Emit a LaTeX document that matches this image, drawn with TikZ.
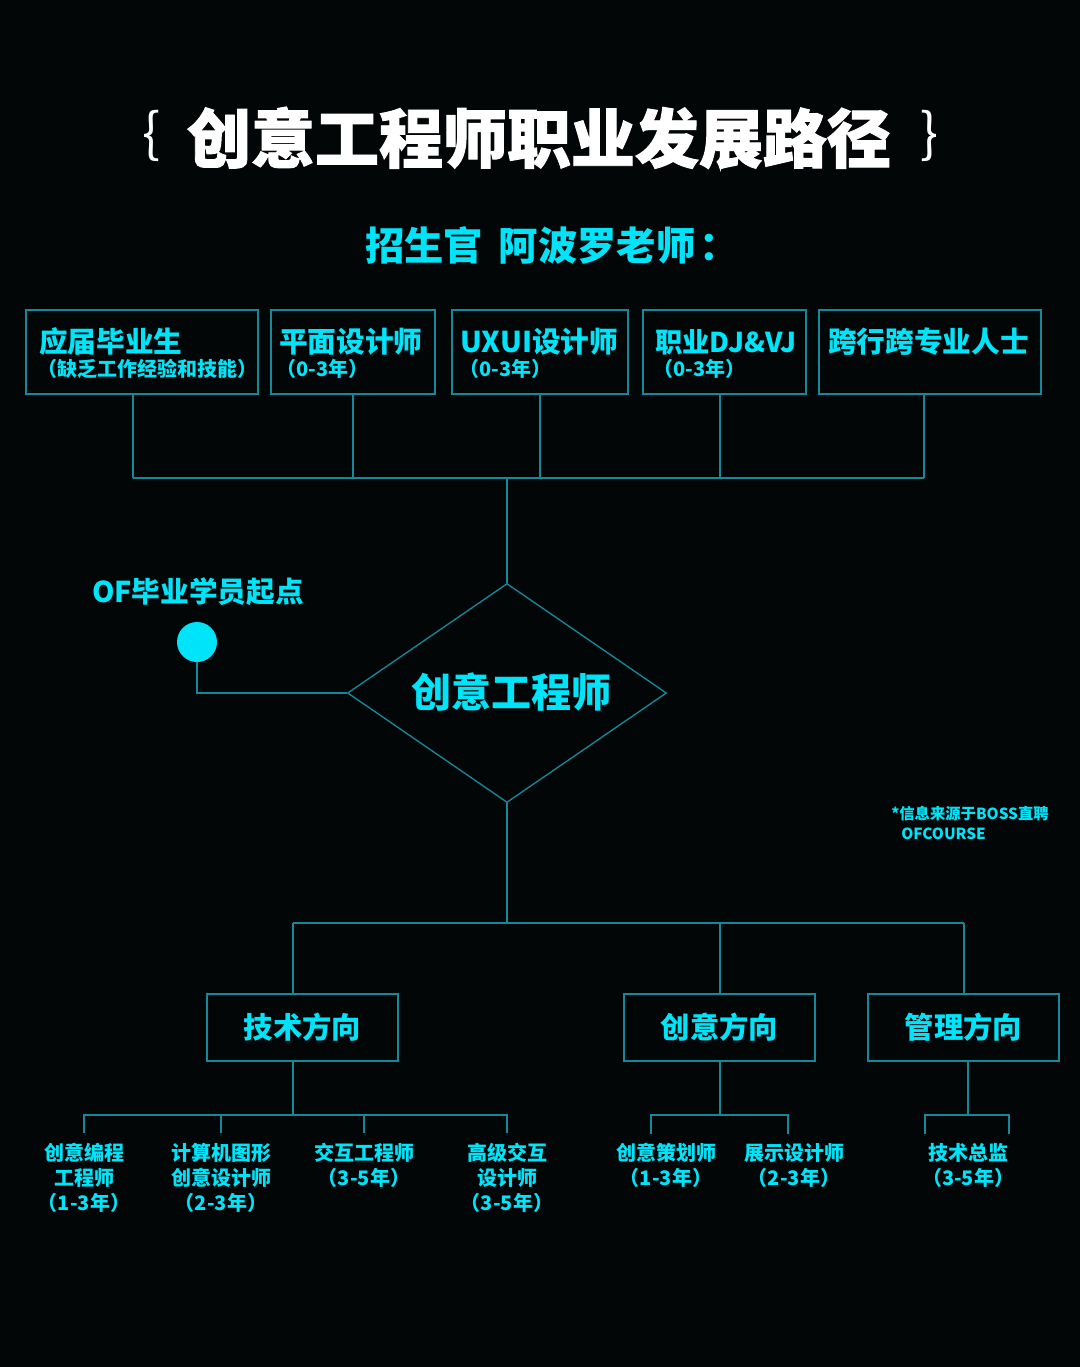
\documentclass[tikz,border=0pt]{standalone}
\usepackage{fontspec}
\setmainfont{Noto Sans CJK SC}
\newfontfamily\titlefont{Noto Sans CJK SC}[FakeBold=1.5]
\usetikzlibrary{shapes.geometric}

\definecolor{bgblack}{HTML}{030607}
\definecolor{ofcyan}{HTML}{00E4FA}
\definecolor{linkteal}{HTML}{14899A}

\begin{document}
\begin{tikzpicture}[x=0.75pt, y=-0.75pt,
    every node/.style={text=ofcyan, inner sep=0pt, font=\bfseries},
    box/.style={rectangle, draw=linkteal, line width=1.1pt},
    link/.style={draw=linkteal, line width=1pt},
    boxname/.style={anchor=west, font=\fontsize{21.5}{24}\selectfont\bfseries},
    boxnote/.style={anchor=west, font=\fontsize{15}{17}\selectfont\bfseries},
    leaf/.style={anchor=north, align=center, font=\fontsize{15}{18.75}\selectfont\bfseries}]

    % background
    \fill[bgblack] (0,0) rectangle (1080,1367);
    \useasboundingbox (0,0) rectangle (1080,1367);

    % title
    \node[text=white, font=\titlefont\fontsize{48}{52}\selectfont\bfseries] (title) at (539,138) {创意工程师职业发展路径};
    \node[text=white, font=\fontsize{40}{44}\selectfont] (lbrace) at (152,136) {\{};
    \node[text=white, font=\fontsize{40}{44}\selectfont] (rbrace) at (930,136) {\}};
    \node[font=\fontsize{29.5}{32}\selectfont\bfseries] (teacher) at (552,245) {招生官\hspace{0.4em}阿波罗老师\hspace{0.1em}：};

    % entry boxes
    \node[box, minimum width=174pt, minimum height=63pt] (grad) at (142,352) {};
    \node[boxname] (gradname) at (39,342) {应届毕业生};
    \node[boxnote] (gradnote) at (37,369) {（缺乏工作经验和技能）};

    \node[box, minimum width=123pt, minimum height=63pt] (graphic) at (353,352) {};
    \node[boxname] (graphicname) at (279,342) {平面设计师};
    \node[boxnote] (graphicnote) at (276,369) {（0-3年）};

    \node[box, minimum width=132pt, minimum height=63pt] (uxui) at (540,352) {};
    \node[boxname] (uxuiname) at (460,342) {UXUI设计师};
    \node[boxnote] (uxuinote) at (459,369) {（0-3年）};

    \node[box, minimum width=122.25pt, minimum height=63pt] (djvj) at (724.5,352) {};
    \node[boxname, font=\fontsize{20.5}{24}\selectfont\bfseries] (djvjname) at (655,342) {职业DJ\&VJ};
    \node[boxnote] (djvjnote) at (653,369) {（0-3年）};

    \node[box, minimum width=166.5pt, minimum height=63pt] (cross) at (930,352) {};
    \node[boxname] (crossname) at (828,342) {跨行跨专业人士};

    % entry bus
    \coordinate (in1) at (133,478);
    \coordinate (in2) at (353,478);
    \coordinate (in3) at (540,478);
    \coordinate (in4) at (720,478);
    \coordinate (in5) at (924,478);
    \coordinate (inmid) at (507,478);
    \draw[link] (in1 |- grad.south) -- (in1);
    \draw[link] (in2 |- graphic.south) -- (in2);
    \draw[link] (in3 |- uxui.south) -- (in3);
    \draw[link] (in4 |- djvj.south) -- (in4);
    \draw[link] (in5 |- cross.south) -- (in5);
    \draw[link] (in1) -- (in5);

    % creative engineer
    \node[diamond, draw=linkteal, line width=1pt, aspect=1.46, minimum width=239.25pt, minimum height=164.25pt] (eng) at (507,693) {};
    \node[font=\fontsize{30}{34}\selectfont\bfseries] (engname) at (511,692) {创意工程师};
    \draw[link] (inmid) -- (eng.north);

    % OF start point
    \node[font=\fontsize{21.5}{24}\selectfont\bfseries] (startname) at (198,592) {OF毕业学员起点};
    \node[circle, fill=ofcyan, minimum size=30pt] (start) at (197,642) {};
    \draw[link] (start.south) |- (eng.west);

    % source note
    \node[anchor=west, font=\fontsize{11.5}{13}\selectfont\bfseries] (source) at (891,814) {*信息来源于BOSS直聘};
    \node[anchor=west, font=\fontsize{11.5}{13}\selectfont\bfseries] (brand) at (901,834) {OFCOURSE};

    % direction bus
    \coordinate (out) at (507,923);
    \coordinate (out1) at (293,923);
    \coordinate (out2) at (720,923);
    \coordinate (out3) at (964,923);
    \draw[link] (eng.south) -- (out);
    \draw[link] (out1) -- (out3);

    % directions
    \node[box, minimum width=143.25pt, minimum height=50.25pt, font=\fontsize{22}{24}\selectfont\bfseries] (tech) at (302.5,1027.5) {技术方向\hspace{10pt}};
    \node[box, minimum width=143.25pt, minimum height=50.25pt, font=\fontsize{22}{24}\selectfont\bfseries] (idea) at (719.5,1027.5) {创意方向\hspace{6pt}};
    \node[box, minimum width=143.25pt, minimum height=50.25pt, font=\fontsize{22}{24}\selectfont\bfseries] (manage) at (963.5,1027.5) {管理方向\hspace{4pt}};
    \draw[link] (out1) -- (out1 |- tech.north);
    \draw[link] (out2) -- (out2 |- idea.north);
    \draw[link] (out3) -- (out3 |- manage.north);

    % tech roles
    \coordinate (techbus) at (293,1115);
    \coordinate (t1) at (84,1133);
    \coordinate (t2) at (221,1133);
    \coordinate (t3) at (364,1133);
    \coordinate (t4) at (507,1133);
    \draw[link] (techbus |- tech.south) -- (techbus);
    \draw[link] (t1) |- (t4 |- techbus) -- (t4);
    \draw[link] (t2 |- techbus) -- (t2);
    \draw[link] (t3 |- techbus) -- (t3);
    \node[leaf] (coder) at (84,1143) {创意编程\\工程师\\（1-3年）};
    \node[leaf] (cgdesign) at (221,1143) {计算机图形\\创意设计师\\（2-3年）};
    \node[leaf] (ixeng) at (364,1143) {交互工程师\\（3-5年）};
    \node[leaf] (ixdesign) at (507,1143) {高级交互\\设计师\\（3-5年）};

    % idea roles
    \coordinate (ideabus) at (720,1115);
    \coordinate (i1) at (651,1134);
    \coordinate (i2) at (788,1134);
    \draw[link] (ideabus |- idea.south) -- (ideabus);
    \draw[link] (i1) |- (i2 |- ideabus) -- (i2);
    \node[leaf] (planner) at (666,1143) {创意策划师\\（1-3年）};
    \node[leaf] (display) at (794,1143) {展示设计师\\（2-3年）};

    % manage roles
    \coordinate (managebus) at (968,1115);
    \coordinate (m1) at (925,1134);
    \coordinate (m2) at (1009,1134);
    \draw[link] (managebus |- manage.south) -- (managebus);
    \draw[link] (m1) |- (m2 |- managebus) -- (m2);
    \node[leaf] (director) at (968,1143) {技术总监\\（3-5年）};

\end{tikzpicture}
\end{document}
